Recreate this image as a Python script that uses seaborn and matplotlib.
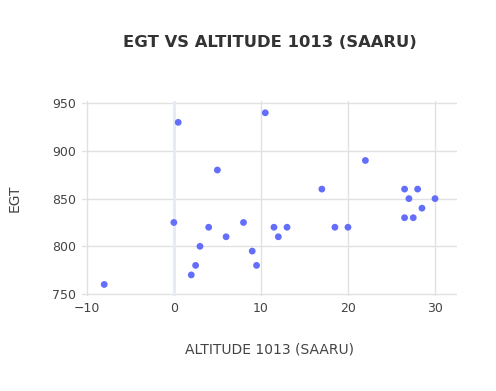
import matplotlib
matplotlib.use("Agg")
import matplotlib.pyplot as plt
import seaborn as sns
import pandas as pd

# Data
altitude = [0.5, 5, 0, 4, 6, 3, 2.5, 2, -8, 8, 9, 9.5, 10.5, 11.5, 12,
            13, 17, 18.5, 20, 22, 26.5, 28, 27, 30, 28.5, 26.5, 27.5]
egt = [930, 880, 825, 820, 810, 800, 780, 770, 760, 825, 795, 780, 940, 820, 810,
       820, 860, 820, 820, 890, 860, 860, 850, 850, 840, 830, 830]
x_ticks = [-10, 0, 10, 20, 30]
y_ticks = [750, 800, 850, 900, 950]

df = pd.DataFrame({"ALTITUDE 1013 (SAARU)": altitude, "EGT": egt})

sns.set_theme(style="whitegrid")
plt.rcParams["font.family"] = ["DejaVu Sans"]

fig = plt.figure(figsize=(4.96, 3.91), dpi=100)
ax = fig.add_axes([0.165, 0.242, 0.757, 0.500])

sns.scatterplot(data=df, x="ALTITUDE 1013 (SAARU)", y="EGT", ax=ax,
                color="#636efa", s=24, edgecolor="none", zorder=3)

ax.set_xlim(-10.57, 32.56)
ax.set_ylim(747.5, 952.5)
ax.set_xticks(x_ticks)
ax.set_yticks(y_ticks)
ax.grid(True, color="#e1e1e1", linewidth=1)
ax.axvline(0, color="#e5eaf8", linewidth=2, zorder=1)
for s in ax.spines.values():
    s.set_visible(False)
ax.tick_params(axis="both", length=0, labelsize=9, labelcolor="#444444", pad=4)

ax.set_xlabel("ALTITUDE 1013 (SAARU)", fontsize=10, color="#444444", labelpad=20)
ax.set_ylabel("EGT", fontsize=10, color="#444444", labelpad=22)

fig.suptitle("EGT VS ALTITUDE 1013 (SAARU)", x=0.545, y=0.91, fontsize=11.8,
             fontweight="bold", color="#333333")

fig.savefig("out.png", dpi=100, facecolor="white")
